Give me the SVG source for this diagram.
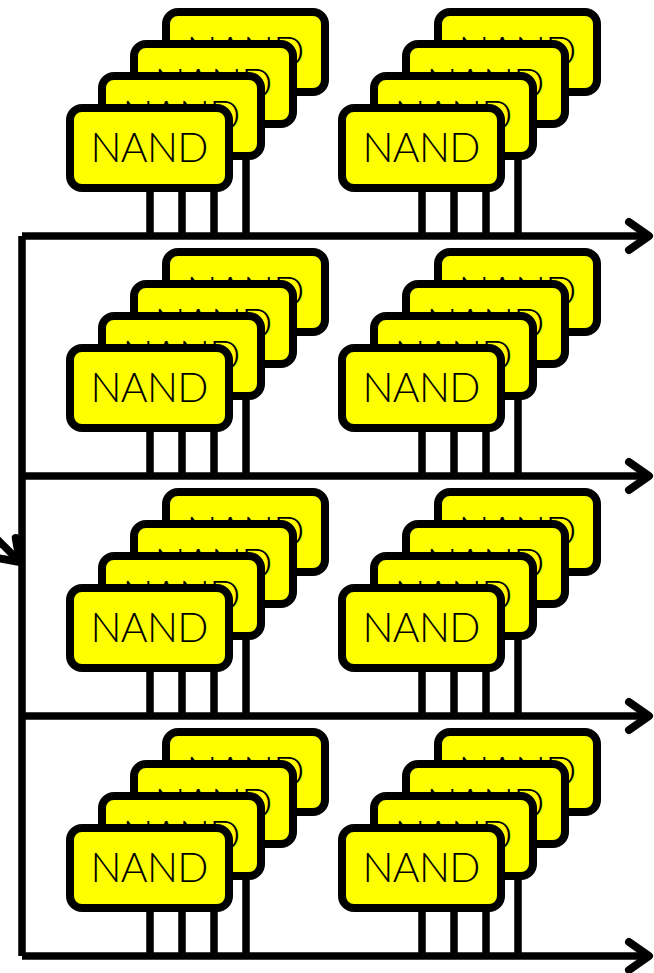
<svg xmlns="http://www.w3.org/2000/svg" width="654" height="973" viewBox="0 0 654 973">
<style>
.box{fill:#ffff00;stroke:#000;stroke-width:8}
.lbl{font-family:Lato,"Liberation Sans",sans-serif;font-weight:300;font-size:41px;fill:#000;text-anchor:middle}
.wire{stroke:#000;stroke-width:7.5;fill:none}
.pin{stroke:#000;stroke-width:7.5}
</style>
<defs>
<marker id="arr" markerUnits="userSpaceOnUse" markerWidth="60" markerHeight="60" refX="0" refY="0" orient="auto" overflow="visible">
<path d="M -20 -14 L 0 0 L -20 14" fill="none" stroke="#000" stroke-width="8" stroke-linecap="round" stroke-linejoin="round"/>
</marker>
<g id="pins">
<line class="pin" x1="150" y1="148" x2="150" y2="236"/>
<line class="pin" x1="182" y1="116" x2="182" y2="236"/>
<line class="pin" x1="214" y1="84" x2="214" y2="236"/>
<line class="pin" x1="246" y1="52" x2="246" y2="236"/>
</g>
</defs>
<g id="connectors">
<use href="#pins"/>
<use href="#pins" x="272"/>
<use href="#pins" y="240"/>
<use href="#pins" x="272" y="240"/>
<use href="#pins" y="480"/>
<use href="#pins" x="272" y="480"/>
<use href="#pins" y="720"/>
<use href="#pins" x="272" y="720"/>
<line class="wire" x1="22" y1="236" x2="22" y2="956"/>
<line class="wire" x1="22" y1="236" x2="649" y2="236" marker-end="url(#arr)"/>
<line class="wire" x1="22" y1="476" x2="649" y2="476" marker-end="url(#arr)"/>
<line class="wire" x1="22" y1="716" x2="649" y2="716" marker-end="url(#arr)"/>
<line class="wire" x1="22" y1="956" x2="649" y2="956" marker-end="url(#arr)"/>
<line class="wire" x1="-23" y1="519" x2="20" y2="562" marker-end="url(#arr)"/>
</g>
<g id="stack-r1-c1">
<g id="nand-r1-c1-4"><rect class="box" x="166" y="12" width="159" height="80" rx="12"/><text class="lbl" x="245.5" y="66" textLength="118">NAND</text></g>
<g id="nand-r1-c1-3"><rect class="box" x="134" y="44" width="159" height="80" rx="12"/><text class="lbl" x="213.5" y="98" textLength="118">NAND</text></g>
<g id="nand-r1-c1-2"><rect class="box" x="102" y="76" width="159" height="80" rx="12"/><text class="lbl" x="181.5" y="130" textLength="118">NAND</text></g>
<g id="nand-r1-c1-1"><rect class="box" x="70" y="108" width="159" height="80" rx="12"/><text class="lbl" x="149.5" y="162" textLength="118">NAND</text></g>
</g>
<g id="stack-r1-c2" transform="translate(272,0)">
<g id="nand-r1-c2-4"><rect class="box" x="166" y="12" width="159" height="80" rx="12"/><text class="lbl" x="245.5" y="66" textLength="118">NAND</text></g>
<g id="nand-r1-c2-3"><rect class="box" x="134" y="44" width="159" height="80" rx="12"/><text class="lbl" x="213.5" y="98" textLength="118">NAND</text></g>
<g id="nand-r1-c2-2"><rect class="box" x="102" y="76" width="159" height="80" rx="12"/><text class="lbl" x="181.5" y="130" textLength="118">NAND</text></g>
<g id="nand-r1-c2-1"><rect class="box" x="70" y="108" width="159" height="80" rx="12"/><text class="lbl" x="149.5" y="162" textLength="118">NAND</text></g>
</g>
<g id="stack-r2-c1" transform="translate(0,240)">
<g id="nand-r2-c1-4"><rect class="box" x="166" y="12" width="159" height="80" rx="12"/><text class="lbl" x="245.5" y="66" textLength="118">NAND</text></g>
<g id="nand-r2-c1-3"><rect class="box" x="134" y="44" width="159" height="80" rx="12"/><text class="lbl" x="213.5" y="98" textLength="118">NAND</text></g>
<g id="nand-r2-c1-2"><rect class="box" x="102" y="76" width="159" height="80" rx="12"/><text class="lbl" x="181.5" y="130" textLength="118">NAND</text></g>
<g id="nand-r2-c1-1"><rect class="box" x="70" y="108" width="159" height="80" rx="12"/><text class="lbl" x="149.5" y="162" textLength="118">NAND</text></g>
</g>
<g id="stack-r2-c2" transform="translate(272,240)">
<g id="nand-r2-c2-4"><rect class="box" x="166" y="12" width="159" height="80" rx="12"/><text class="lbl" x="245.5" y="66" textLength="118">NAND</text></g>
<g id="nand-r2-c2-3"><rect class="box" x="134" y="44" width="159" height="80" rx="12"/><text class="lbl" x="213.5" y="98" textLength="118">NAND</text></g>
<g id="nand-r2-c2-2"><rect class="box" x="102" y="76" width="159" height="80" rx="12"/><text class="lbl" x="181.5" y="130" textLength="118">NAND</text></g>
<g id="nand-r2-c2-1"><rect class="box" x="70" y="108" width="159" height="80" rx="12"/><text class="lbl" x="149.5" y="162" textLength="118">NAND</text></g>
</g>
<g id="stack-r3-c1" transform="translate(0,480)">
<g id="nand-r3-c1-4"><rect class="box" x="166" y="12" width="159" height="80" rx="12"/><text class="lbl" x="245.5" y="66" textLength="118">NAND</text></g>
<g id="nand-r3-c1-3"><rect class="box" x="134" y="44" width="159" height="80" rx="12"/><text class="lbl" x="213.5" y="98" textLength="118">NAND</text></g>
<g id="nand-r3-c1-2"><rect class="box" x="102" y="76" width="159" height="80" rx="12"/><text class="lbl" x="181.5" y="130" textLength="118">NAND</text></g>
<g id="nand-r3-c1-1"><rect class="box" x="70" y="108" width="159" height="80" rx="12"/><text class="lbl" x="149.5" y="162" textLength="118">NAND</text></g>
</g>
<g id="stack-r3-c2" transform="translate(272,480)">
<g id="nand-r3-c2-4"><rect class="box" x="166" y="12" width="159" height="80" rx="12"/><text class="lbl" x="245.5" y="66" textLength="118">NAND</text></g>
<g id="nand-r3-c2-3"><rect class="box" x="134" y="44" width="159" height="80" rx="12"/><text class="lbl" x="213.5" y="98" textLength="118">NAND</text></g>
<g id="nand-r3-c2-2"><rect class="box" x="102" y="76" width="159" height="80" rx="12"/><text class="lbl" x="181.5" y="130" textLength="118">NAND</text></g>
<g id="nand-r3-c2-1"><rect class="box" x="70" y="108" width="159" height="80" rx="12"/><text class="lbl" x="149.5" y="162" textLength="118">NAND</text></g>
</g>
<g id="stack-r4-c1" transform="translate(0,720)">
<g id="nand-r4-c1-4"><rect class="box" x="166" y="12" width="159" height="80" rx="12"/><text class="lbl" x="245.5" y="66" textLength="118">NAND</text></g>
<g id="nand-r4-c1-3"><rect class="box" x="134" y="44" width="159" height="80" rx="12"/><text class="lbl" x="213.5" y="98" textLength="118">NAND</text></g>
<g id="nand-r4-c1-2"><rect class="box" x="102" y="76" width="159" height="80" rx="12"/><text class="lbl" x="181.5" y="130" textLength="118">NAND</text></g>
<g id="nand-r4-c1-1"><rect class="box" x="70" y="108" width="159" height="80" rx="12"/><text class="lbl" x="149.5" y="162" textLength="118">NAND</text></g>
</g>
<g id="stack-r4-c2" transform="translate(272,720)">
<g id="nand-r4-c2-4"><rect class="box" x="166" y="12" width="159" height="80" rx="12"/><text class="lbl" x="245.5" y="66" textLength="118">NAND</text></g>
<g id="nand-r4-c2-3"><rect class="box" x="134" y="44" width="159" height="80" rx="12"/><text class="lbl" x="213.5" y="98" textLength="118">NAND</text></g>
<g id="nand-r4-c2-2"><rect class="box" x="102" y="76" width="159" height="80" rx="12"/><text class="lbl" x="181.5" y="130" textLength="118">NAND</text></g>
<g id="nand-r4-c2-1"><rect class="box" x="70" y="108" width="159" height="80" rx="12"/><text class="lbl" x="149.5" y="162" textLength="118">NAND</text></g>
</g>
</svg>
